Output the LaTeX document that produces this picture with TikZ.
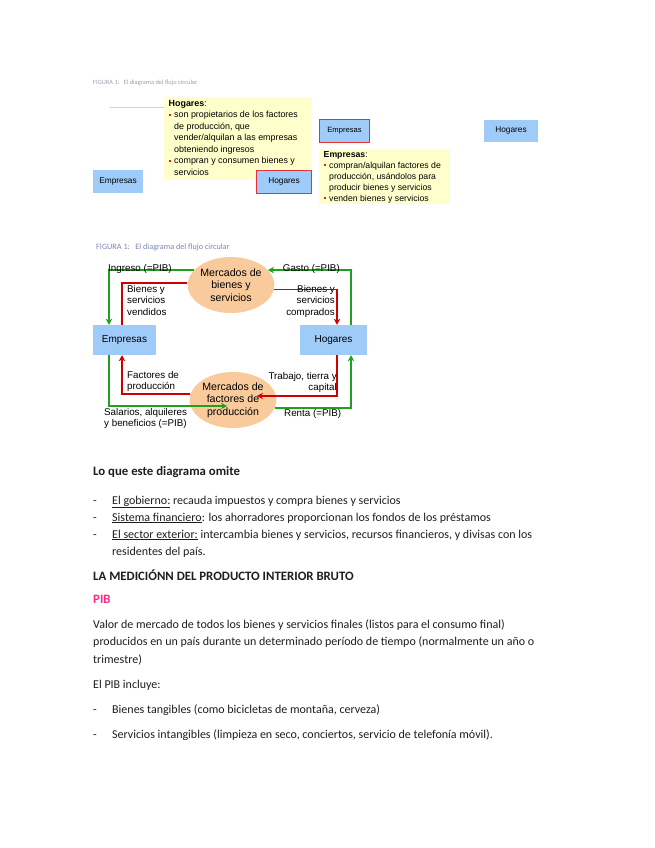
\documentclass[tikz,border=0pt]{standalone}
\usepackage{fontspec}
\setmainfont{Carlito}
\newfontfamily\arialf{Liberation Sans}
\usetikzlibrary{calc,arrows.meta,shapes.geometric}
\definecolor{boxblue}{HTML}{9FCBF9}
\definecolor{peach}{HTML}{F9CB9C}
\definecolor{calloutyel}{HTML}{FFFFCC}
\definecolor{flowred}{HTML}{D00000}
\definecolor{flowgreen}{HTML}{1FA01F}
\definecolor{bulred}{HTML}{E02020}
\definecolor{boxred}{HTML}{E8303A}
\definecolor{pibpink}{HTML}{FF2A8A}
\definecolor{captgray}{HTML}{9AA0AA}
\definecolor{captblue}{HTML}{7F86AE}
\definecolor{bodytext}{HTML}{1E1E1E}
\newcommand\rbul{\makebox[5.5pt][l]{\textcolor{bulred}{\rule[1.8pt]{2.3pt}{2.3pt}}}}
\newcommand\hind{\hspace*{5.5pt}}
\begin{document}
\begin{tikzpicture}[x=1pt,y=-1pt,
  bluebox/.style={fill=boxblue, draw=none, inner sep=0pt, font=\arialf\fontsize{10}{12}\selectfont},
  smallbox/.style={fill=boxblue, draw=none, inner sep=0pt, font=\arialf\fontsize{8.3}{10}\selectfont},
  redframe/.style={smallbox, draw=boxred, line width=1.2pt},
  market/.style={ellipse, fill=peach, draw=none, inner sep=0pt, minimum width=72pt, minimum height=56pt, align=center, font=\arialf\fontsize{10.6}{12.4}\selectfont},
  callout/.style={fill=calloutyel, draw=none, inner sep=0pt},
  callouttext/.style={anchor=north west, inner sep=0pt, align=left, font=\arialf\fontsize{8.9}{11.5}\selectfont},
  flowlabel/.style={inner sep=0pt, font=\arialf\fontsize{9.8}{11.4}\selectfont},
  garrow/.style={draw=flowgreen, line width=1.8pt, -{Stealth[length=6pt,width=6.5pt]}},
  rarrow/.style={draw=flowred, line width=1.8pt, -{Stealth[length=6pt,width=6.5pt]}},
  rline/.style={draw=flowred, line width=1.8pt},
  body/.style={anchor=base west, inner sep=0pt, text=bodytext, font=\fontsize{12}{14}\selectfont},
  bodybold/.style={body, font=\bfseries\fontsize{12.8}{14}\selectfont}
]
\useasboundingbox[fill=white] (0,0) rectangle (655,848);

% ---------- top figure ----------
\node[anchor=west, inner sep=0pt, text=captgray, font=\fontsize{6.4}{8}\selectfont] (cap1) at (93,83) {FIGURA 1:\ \ \ El diagrama del flujo circular};
\coordinate (gl1) at (110,107);
\node[callout, minimum width=148pt, minimum height=83pt, anchor=north west] (hc) at (164,97) {};
\draw[gray!35, line width=0.8pt] (gl1) -- (hc.west |- gl1);
\node[callouttext] (hct) at ([xshift=4.5pt,yshift=-3pt]hc.north west)
 {\textbf{Hogares}:\\
  \rbul son propietarios de los factores\\
  \hind de producción, que\\
  \hind vender/alquilan a las empresas\\
  \hind obteniendo ingresos\\
  \rbul compran y consumen bienes y\\
  \hind servicios};
\node[smallbox, minimum width=50pt, minimum height=23pt] (emp1) at (118,181.5) {Empresas};
\node[redframe, minimum width=55pt, minimum height=23pt] (hog1) at (284,182) {Hogares};
\node[redframe, minimum width=50pt, minimum height=23pt, font=\arialf\fontsize{7.6}{9}\selectfont] (emp1r) at (344.5,131) {Empresas};
\node[smallbox, minimum width=54pt, minimum height=22pt] (hog1b) at (511,131) {Hogares};
\node[callout, minimum width=131pt, minimum height=55pt, anchor=north west] (ec) at (319,149) {};
\node[callouttext, font=\arialf\fontsize{8.7}{11}\selectfont] (ect) at ([xshift=4.5pt,yshift=-2pt]ec.north west)
 {\textbf{Empresas}:\\
  \rbul compran/alquilan factores de\\
  \hind producción, usándolos para\\
  \hind producir bienes y servicios\\
  \rbul venden bienes y servicios};

% ---------- second figure ----------
\node[anchor=west, inner sep=0pt, text=captblue, font=\fontsize{8.2}{10}\selectfont] (cap2) at (96,247) {FIGURA 1:\ \ \ El diagrama del flujo circular};
\node[market] (mb) at (231,285) {Mercados de\\bienes y\\servicios};
\node[market] (mf) at (233,400) {Mercados de\\factores de\\producción};
\node[bluebox, minimum width=63pt, minimum height=30pt] (emp) at (124.5,340) {Empresas};
\node[bluebox, minimum width=67pt, minimum height=30pt] (hog) at (333.5,340) {Hogares};

\draw[garrow] (mb.158) -| ([xshift=-15.5pt]emp.north);
\draw[rline] ([xshift=-2.5pt]emp.north) |- ([yshift=2pt]mb.west);
\draw[rarrow] (mb.354) -| ([xshift=3.5pt]hog.north);
\draw[garrow] ([xshift=17.5pt]hog.north) |- (mb.22);
\draw[rarrow] ([xshift=3.5pt]hog.south) |- ([xshift=24pt,yshift=4pt]mf.center);
\draw[garrow] (mf.349) -| ([xshift=17.5pt]hog.south);
\draw[rarrow] (mf.172) -| ([xshift=-2.5pt]emp.south);
\draw[garrow] ([xshift=-15.5pt]emp.south) |- ([xshift=-6pt,yshift=-6pt]mf.center);

\node[flowlabel, anchor=base west] (l1) at (108,271) {Ingreso (=PIB)};
\node[flowlabel, anchor=base east] (l2) at (340,271) {Gasto (=PIB)};
\node[flowlabel, anchor=north west, align=left] (l3) at (127,285) {Bienes y\\servicios\\vendidos};
\node[flowlabel, anchor=north east, align=right] (l4) at (335,285) {Bienes y\\servicios\\comprados};
\node[flowlabel, anchor=north west, align=left] (l5) at (127,371) {Factores de\\producción};
\node[flowlabel, anchor=north east, align=right] (l6) at (337,372) {Trabajo, tierra y\\capital};
\node[flowlabel, anchor=north west, align=left] (l7) at (104,408) {Salarios, alquileres\\y beneficios (=PIB)};
\node[flowlabel, anchor=north west] (l8) at (284,409) {Renta (=PIB)};

% ---------- text ----------
\node[bodybold] (t1) at (93,475) {Lo que este diagrama omite};
\node[body] (d1) at (93,504) {-};
\node[body] (i1) at (112,504) {\underline{El gobierno:} recauda impuestos y compra bienes y servicios};
\node[body] (d2) at (93,521) {-};
\node[body] (i2) at (112,521) {\underline{Sistema financiero}: los ahorradores proporcionan los fondos de los préstamos};
\node[body] (d3) at (93,538) {-};
\node[body] (i3) at (112,538) {\underline{El sector exterior:} intercambia bienes y servicios, recursos financieros, y divisas con los};
\node[body] (i3b) at (112,555) {residentes del país.};
\node[bodybold] (t2) at (93,580) {LA MEDICIÓNN DEL PRODUCTO INTERIOR BRUTO};
\node[bodybold, text=pibpink] (t3) at (93,603) {PIB};
\node[body] (p1) at (93,628) {Valor de mercado de todos los bienes y servicios finales (listos para el consumo final)};
\node[body] (p2) at (93,645) {producidos en un país durante un determinado período de tiempo (normalmente un año o};
\node[body] (p3) at (93,663) {trimestre)};
\node[body] (p4) at (93,688) {El PIB incluye:};
\node[body] (d4) at (93,713) {-};
\node[body] (b1) at (112,713) {Bienes tangibles (como bicicletas de montaña, cerveza)};
\node[body] (d5) at (93,738) {-};
\node[body] (b2) at (112,738) {Servicios intangibles (limpieza en seco, conciertos, servicio de telefonía móvil).};
\end{tikzpicture}
\end{document}
